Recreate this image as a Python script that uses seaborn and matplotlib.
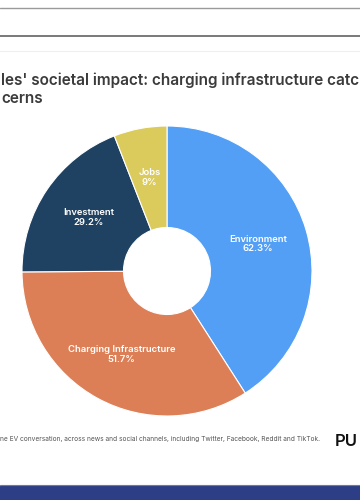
import matplotlib
matplotlib.use("Agg")
import matplotlib.pyplot as plt
import seaborn as sns
import numpy as np

# Data
categories = ["Environment", "Charging Infrastructure", "Investment", "Jobs"]
values = [62.3, 51.7, 29.2, 9]
value_labels = ["62.3%", "51.7%", "29.2%", "9%"]

title_visible = "les' societal impact: charging infrastructure catc\ncerns"
footnote_visible = "ne EV conversation, across news and social channels, including Twitter, Facebook, Reddit and TikTok."

sns.set_theme(style="white")
plt.rcParams["font.family"] = ["Inter", "DejaVu Sans"]

palette = sns.color_palette(["#539ff6", "#dd7f56", "#1f4263", "#dbca5c"])

fig = plt.figure(figsize=(3.6, 5), dpi=100)
fig.patch.set_facecolor("white")

# Page frame lines
fig.add_artist(plt.Line2D([0, 1], [1 - 8 / 500, 1 - 8 / 500], color="#9a9a9a", lw=1.0))
fig.add_artist(plt.Line2D([0, 1], [1 - 36 / 500, 1 - 36 / 500], color="#6e6e6e", lw=1.3))
fig.add_artist(plt.Line2D([0, 1], [1 - 51 / 500, 1 - 51 / 500], color="#efefef", lw=0.8))
fig.add_artist(plt.Line2D([0, 1], [15.5 / 500, 15.5 / 500], color="#7a7a7a", lw=0.8))
fig.add_artist(plt.Rectangle((0, 0), 1, 14 / 500, color="#2d3e87", transform=fig.transFigure))

# Title
fig.text(0.003, 1 - 72 / 500, title_visible, ha="left", va="top",
         fontsize=11, fontweight="semibold", color="#3b3b3b", linespacing=1.3)

# Donut
ax = fig.add_axes([22 / 360, 84 / 500, 290 / 360, 290 / 500])
wedges, _ = ax.pie(values, colors=palette, startangle=90, counterclock=False,
                   wedgeprops=dict(width=0.70, edgecolor="white", linewidth=0.8))
ax.set_xlim(-1.0, 1.0)
ax.set_ylim(-1.0, 1.0)
ax.set_aspect("equal")

for w, cat, lab in zip(wedges, categories, value_labels):
    mid = np.deg2rad((w.theta1 + w.theta2) / 2)
    r = 0.655
    ax.text(r * np.cos(mid), r * np.sin(mid), f"{cat}\n{lab}", ha="center", va="center",
            color="white", fontsize=6.8, fontweight="semibold", linespacing=1.05)

# Footnote and logo fragment
fig.text(0.0, 1 - 439 / 500, footnote_visible, ha="left", va="center",
         fontsize=4.75, color="#555555")
fig.text(358 / 360, 1 - 441 / 500, "PU", ha="right", va="center",
         fontsize=12, fontweight="semibold", color="#111111")

plt.savefig("out.png", dpi=100)
plt.close()
